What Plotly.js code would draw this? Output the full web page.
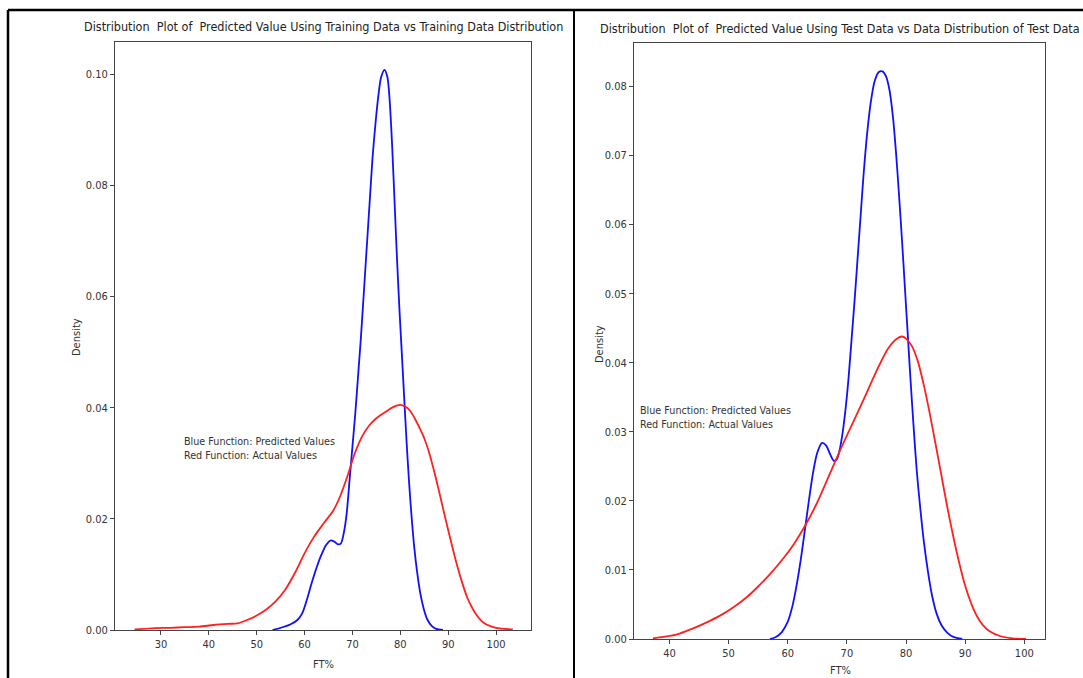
<!DOCTYPE html>
<html>
<head>
<meta charset="utf-8">
<script src="https://cdn.plot.ly/plotly-3.0.1.min.js"></script>
<style>html,body{margin:0;padding:0;background:#fff;}#chart{width:1083px;height:678px;}</style>
</head>
<body>
<div id="chart"></div>
<script>
// ---- Data ----
const trainPredX = [53.3, 55, 57, 58.5, 59.5, 60.5, 61.5, 62.5, 63.5, 64.5, 65.4, 66.2, 67.0, 67.6, 68.2, 68.8, 69.4, 70.0, 70.6, 71.2, 71.8, 72.4, 73.0, 73.6, 74.2, 74.8, 75.4, 76.0, 76.7, 77.3, 77.8, 78.3, 78.8, 79.3, 79.8, 80.3, 80.8, 81.3, 81.8, 82.3, 82.9, 83.5, 84.2, 84.9, 85.7, 86.6, 87.5, 88.9];
const trainPredY = [0.0, 0.0004, 0.001, 0.0018, 0.003, 0.0055, 0.0085, 0.0112, 0.0135, 0.0153, 0.0161, 0.0159, 0.0154, 0.0156, 0.0175, 0.021, 0.027, 0.033, 0.039, 0.046, 0.053, 0.061, 0.069, 0.077, 0.085, 0.091, 0.096, 0.0995, 0.1008, 0.0995, 0.095, 0.087, 0.077, 0.067, 0.058, 0.050, 0.042, 0.034, 0.027, 0.021, 0.015, 0.0105, 0.0065, 0.0038, 0.0018, 0.0007, 0.0002, 0.0];

const trainActX = [24.5, 28, 32, 35, 38, 41, 44, 46, 48, 50, 52, 54, 56, 58, 60, 62, 64, 66, 67.5, 69, 70.5, 72, 73.5, 75, 77, 78.5, 80, 81, 82, 83, 84, 85, 86, 87, 88, 89, 90, 91, 92, 93, 94, 95, 96, 97, 98, 100, 103.5];
const trainActY = [0.0001, 0.0003, 0.0004, 0.0005, 0.0006, 0.0009, 0.0011, 0.0012, 0.0018, 0.0026, 0.0037, 0.0052, 0.0073, 0.0103, 0.0138, 0.0168, 0.0192, 0.0215, 0.0242, 0.0278, 0.0318, 0.0348, 0.0368, 0.0381, 0.0393, 0.0401, 0.0405, 0.0402, 0.0395, 0.0381, 0.0364, 0.0345, 0.0320, 0.0288, 0.0253, 0.0216, 0.0180, 0.0145, 0.0112, 0.0083, 0.0058, 0.0040, 0.0026, 0.0016, 0.0010, 0.0004, 0.0001];

const testPredX = [57, 58, 59, 60, 60.8, 61.5, 62.2, 62.9, 63.6, 64.3, 65.0, 65.8, 66.5, 67.2, 67.8, 68.3, 68.8, 69.3, 69.8, 70.3, 70.8, 71.3, 71.8, 72.3, 72.8, 73.4, 74.0, 74.7, 75.4, 76.0, 76.6, 77.2, 77.8, 78.3, 78.8, 79.3, 79.8, 80.3, 80.8, 81.3, 81.8, 82.4, 83.0, 83.7, 84.4, 85.2, 86, 87, 88, 89.5];
const testPredY = [0.0, 0.0003, 0.001, 0.0025, 0.0048, 0.0078, 0.0115, 0.0158, 0.0202, 0.0242, 0.027, 0.0284, 0.028, 0.0267, 0.0258, 0.026, 0.0275, 0.030, 0.0335, 0.038, 0.0435, 0.049, 0.055, 0.061, 0.067, 0.073, 0.0775, 0.0808, 0.0821, 0.0822, 0.0815, 0.0795, 0.0755, 0.0705, 0.0645, 0.058, 0.051, 0.044, 0.037, 0.0305, 0.0245, 0.019, 0.0142, 0.0098, 0.0063, 0.0036, 0.002, 0.0009, 0.0003, 0.0];

const testActX = [37.2, 39, 41, 43, 45, 47, 49, 51, 53, 55, 57, 59, 61, 63, 65, 67, 69, 71, 73, 75, 77, 78.5, 79.3, 80, 81, 82, 83, 84, 85, 86, 87, 88, 89, 90, 91, 92, 93, 94, 96, 98, 100.3];
const testActY = [0.0001, 0.0003, 0.0006, 0.0012, 0.0019, 0.0027, 0.0036, 0.0047, 0.006, 0.0076, 0.0094, 0.0114, 0.0137, 0.0165, 0.0198, 0.0237, 0.0276, 0.0313, 0.035, 0.0388, 0.0421, 0.0435, 0.0438, 0.0435, 0.0424, 0.0402, 0.0368, 0.0327, 0.0282, 0.0236, 0.019, 0.0148, 0.011, 0.0077, 0.0052, 0.0033, 0.002, 0.0012, 0.0004, 0.0001, 0.0];

const titleLeft = "Distribution  Plot of  Predicted Value Using Training Data vs Training Data Distribution";
const titleRight = "Distribution  Plot of  Predicted Value Using Test Data vs Data Distribution of Test Data";
const noteText = "Blue Function: Predicted Values<br>Red Function: Actual Values";
const trainYTicks = [0, 0.02, 0.04, 0.06, 0.08, 0.10];
const testYTicks = [0, 0.01, 0.02, 0.03, 0.04, 0.05, 0.06, 0.07, 0.08];
const trainXTicks = [30, 40, 50, 60, 70, 80, 90, 100];
const testXTicks = [40, 50, 60, 70, 80, 90, 100];

// ---- Styling ----
const FONT = "DejaVu Sans Condensed, Liberation Sans Narrow, DejaVu Sans, sans-serif";
const lineStyle = (c) => ({color: c, width: 1.8, shape: 'spline', smoothing: 0.8});

const traces = [
  {x: trainPredX, y: trainPredY, xaxis: 'x', yaxis: 'y', mode: 'lines', line: lineStyle('#1010ff'), hoverinfo: 'skip'},
  {x: trainActX, y: trainActY, xaxis: 'x', yaxis: 'y', mode: 'lines', line: lineStyle('#ff2020'), hoverinfo: 'skip'},
  {x: testPredX, y: testPredY, xaxis: 'x2', yaxis: 'y2', mode: 'lines', line: lineStyle('#1010ff'), hoverinfo: 'skip'},
  {x: testActX, y: testActY, xaxis: 'x2', yaxis: 'y2', mode: 'lines', line: lineStyle('#ff2020'), hoverinfo: 'skip'}
];

const axBase = {
  showgrid: false, zeroline: false, showline: true, mirror: true,
  linecolor: '#444', linewidth: 1, ticks: 'outside', ticklen: 4, tickcolor: '#444',
  tickfont: {family: FONT, size: 11, color: '#333'}, fixedrange: true
};

const W = 1083, H = 678;
const layout = {
  width: W, height: H,
  margin: {l: 0, r: 0, t: 0, b: 0},
  paper_bgcolor: '#fff', plot_bgcolor: '#fff',
  showlegend: false,
  font: {family: FONT, color: '#333'},
  xaxis: Object.assign({}, axBase, {domain: [115/W, 531/W], range: [20.4, 107.3], tickvals: trainXTicks, anchor: 'y'}),
  yaxis: Object.assign({}, axBase, {domain: [1-630/H, 1-42/H], range: [0, 0.1058], tickvals: trainYTicks, tickformat: '.2f', anchor: 'x'}),
  xaxis2: Object.assign({}, axBase, {domain: [634/W, 1045/W], range: [34.0, 103.5], tickvals: testXTicks, anchor: 'y2'}),
  yaxis2: Object.assign({}, axBase, {domain: [1-639/H, 1-43/H], range: [0, 0.0863], tickvals: testYTicks, tickformat: '.2f', anchor: 'x2'}),
  annotations: [
    {text: titleLeft, xref: 'paper', yref: 'paper', x: 323/W, y: 1-27/H, xanchor: 'center', yanchor: 'middle', showarrow: false, font: {family: FONT, size: 12.5, color: '#222'}},
    {text: titleRight, xref: 'paper', yref: 'paper', x: 840/W, y: 1-28/H, xanchor: 'center', yanchor: 'middle', showarrow: false, font: {family: FONT, size: 12.5, color: '#222'}},
    {text: noteText, xref: 'x', yref: 'y', x: 34.4, y: 0.0299, xanchor: 'left', yanchor: 'bottom', align: 'left', showarrow: false, font: {family: FONT, size: 10.7, color: '#333'}},
    {text: noteText, xref: 'x2', yref: 'y2', x: 34.6, y: 0.0298, xanchor: 'left', yanchor: 'bottom', align: 'left', showarrow: false, font: {family: FONT, size: 10.7, color: '#333'}},
    {text: 'FT%', xref: 'paper', yref: 'paper', x: 323/W, y: 1-664/H, xanchor: 'center', yanchor: 'middle', showarrow: false, font: {family: FONT, size: 11, color: '#333'}},
    {text: 'FT%', xref: 'paper', yref: 'paper', x: 840/W, y: 1-670/H, xanchor: 'center', yanchor: 'middle', showarrow: false, font: {family: FONT, size: 11, color: '#333'}},
    {text: 'Density', xref: 'paper', yref: 'paper', x: 76/W, y: 1-337/H, xanchor: 'center', yanchor: 'middle', textangle: -90, showarrow: false, font: {family: FONT, size: 11, color: '#333'}},
    {text: 'Density', xref: 'paper', yref: 'paper', x: 599/W, y: 1-344/H, xanchor: 'center', yanchor: 'middle', textangle: -90, showarrow: false, font: {family: FONT, size: 11, color: '#333'}}
  ],
  shapes: [
    {type: 'line', xref: 'paper', yref: 'paper', x0: 8/W, x1: 1, y0: 1-10/H, y1: 1-10/H, line: {color: '#000', width: 2.5}},
    {type: 'line', xref: 'paper', yref: 'paper', x0: 8/W, x1: 8/W, y0: 1-10/H, y1: 0, line: {color: '#000', width: 2.5}},
    {type: 'line', xref: 'paper', yref: 'paper', x0: 574/W, x1: 574/W, y0: 1-10/H, y1: 0, line: {color: '#000', width: 2}}
  ]
};

Plotly.newPlot('chart', traces, layout, {staticPlot: true, displayModeBar: false});
</script>
</body>
</html>
